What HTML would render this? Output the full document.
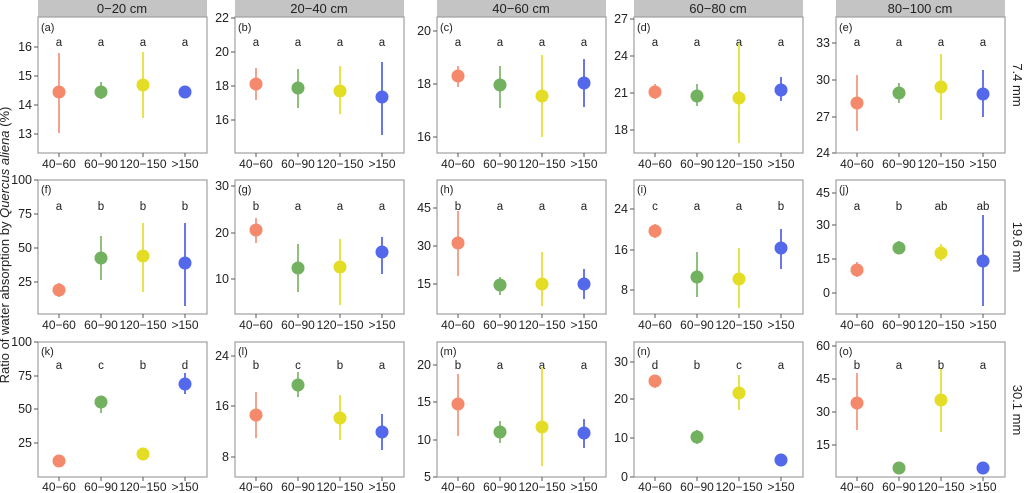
<!DOCTYPE html>
<html><head><meta charset="utf-8"><style>
body{margin:0;background:#fff}
svg{display:block;font-family:"Liberation Sans",Arial,sans-serif}
.fr{fill:none;stroke:#a0a0a0;stroke-width:1.2}
.tk{stroke:#555;stroke-width:1}
.yl{font-size:12.5px;fill:#222;text-anchor:end}
.xl{font-size:12px;fill:#222;text-anchor:middle}
.lt{font-size:11.5px;fill:#222;text-anchor:middle}
.pl{font-size:11px;fill:#222}
.st{fill:#c4c4c4}
.sh{font-size:13px;fill:#222;text-anchor:middle}
.r{stroke:#f4a48e;stroke-width:2}.g{stroke:#8fc07f;stroke-width:2}.y{stroke:#e8e34a;stroke-width:2}.b{stroke:#6a78e6;stroke-width:2}
.R{fill:#f4896b}.G{fill:#72b15f}.Y{fill:#e4dd26}.B{fill:#5468ec}
</style></head><body>
<svg width="1024" height="493" viewBox="0 0 1024 493">
<defs>
<g id="xax1"><line class="tk" x1="21" y1="153" x2="21" y2="157"/><line class="tk" x1="63" y1="153" x2="63" y2="157"/><line class="tk" x1="105" y1="153" x2="105" y2="157"/><line class="tk" x1="147" y1="153" x2="147" y2="157"/><text class="xl" x="21" y="168">40−60</text><text class="xl" x="63" y="168">60−90</text><text class="xl" x="105" y="168">120−150</text><text class="xl" x="147" y="168">&gt;150</text></g>
<g id="xax2"><line class="tk" x1="21" y1="314" x2="21" y2="318"/><line class="tk" x1="63" y1="314" x2="63" y2="318"/><line class="tk" x1="105" y1="314" x2="105" y2="318"/><line class="tk" x1="147" y1="314" x2="147" y2="318"/><text class="xl" x="21" y="329">40−60</text><text class="xl" x="63" y="329">60−90</text><text class="xl" x="105" y="329">120−150</text><text class="xl" x="147" y="329">&gt;150</text></g>
<g id="xax3"><line class="tk" x1="21" y1="477" x2="21" y2="481"/><line class="tk" x1="63" y1="477" x2="63" y2="481"/><line class="tk" x1="105" y1="477" x2="105" y2="481"/><line class="tk" x1="147" y1="477" x2="147" y2="481"/><text class="xl" x="21" y="491">40−60</text><text class="xl" x="63" y="491">60−90</text><text class="xl" x="105" y="491">120−150</text><text class="xl" x="147" y="491">&gt;150</text></g>
</defs>

<text class="pl" transform="translate(9,245) rotate(-90)" text-anchor="middle" style="font-size:13px">Ratio of water absorption by <tspan font-style="italic">Quercus aliena</tspan> (%)</text>
<text class="sh" transform="translate(1013,85) rotate(90)">7.4 mm</text>
<text class="sh" transform="translate(1013,247) rotate(90)">19.6 mm</text>
<text class="sh" transform="translate(1013,410) rotate(90)">30.1 mm</text>

<rect class="st" x="38" y="0" width="169" height="17"/><text class="sh" x="122" y="13">0−20 cm</text>
<rect class="st" x="235" y="0" width="169" height="17"/><text class="sh" x="319" y="13">20−40 cm</text>
<rect class="st" x="437" y="0" width="169" height="17"/><text class="sh" x="521" y="13">40−60 cm</text>
<rect class="st" x="634" y="0" width="169" height="17"/><text class="sh" x="718" y="13">60−80 cm</text>
<rect class="st" x="836" y="0" width="169" height="17"/><text class="sh" x="920" y="13">80−100 cm</text>

<g transform="translate(38,0)"><rect class="fr" x="0" y="17" width="169" height="136"/><use href="#xax1"/>
<line class="tk" x1="-4" y1="47" x2="0" y2="47"/><text class="yl" x="-6" y="51">16</text>
<line class="tk" x1="-4" y1="76" x2="0" y2="76"/><text class="yl" x="-6" y="80">15</text>
<line class="tk" x1="-4" y1="105" x2="0" y2="105"/><text class="yl" x="-6" y="109">14</text>
<line class="tk" x1="-4" y1="134" x2="0" y2="134"/><text class="yl" x="-6" y="138">13</text>
<text class="pl" x="3" y="31">(a)</text>
<text class="lt" x="21" y="46">a</text><text class="lt" x="63" y="46">a</text><text class="lt" x="105" y="46">a</text><text class="lt" x="147" y="46">a</text>
<line class="r" x1="21" y1="53" x2="21" y2="133"/><circle class="R" cx="21" cy="92" r="6.5"/>
<line class="g" x1="63" y1="82" x2="63" y2="99"/><circle class="G" cx="63" cy="92" r="6.5"/>
<line class="y" x1="105" y1="52" x2="105" y2="118"/><circle class="Y" cx="105" cy="85" r="6.5"/>
<circle class="B" cx="147" cy="92" r="6.5"/></g>

<g transform="translate(235,0)"><rect class="fr" x="0" y="17" width="169" height="136"/><use href="#xax1"/>
<line class="tk" x1="-4" y1="18" x2="0" y2="18"/><text class="yl" x="-6" y="22">22</text>
<line class="tk" x1="-4" y1="52" x2="0" y2="52"/><text class="yl" x="-6" y="56">20</text>
<line class="tk" x1="-4" y1="86" x2="0" y2="86"/><text class="yl" x="-6" y="90">18</text>
<line class="tk" x1="-4" y1="120" x2="0" y2="120"/><text class="yl" x="-6" y="124">16</text>
<text class="pl" x="3" y="31">(b)</text>
<text class="lt" x="21" y="46">a</text><text class="lt" x="63" y="46">a</text><text class="lt" x="105" y="46">a</text><text class="lt" x="147" y="46">a</text>
<line class="r" x1="21" y1="68" x2="21" y2="100"/><circle class="R" cx="21" cy="84" r="6.5"/>
<line class="g" x1="63" y1="69" x2="63" y2="108"/><circle class="G" cx="63" cy="88" r="6.5"/>
<line class="y" x1="105" y1="66" x2="105" y2="114"/><circle class="Y" cx="105" cy="91" r="6.5"/>
<line class="b" x1="147" y1="62" x2="147" y2="135"/><circle class="B" cx="147" cy="97" r="6.5"/></g>

<g transform="translate(437,0)"><rect class="fr" x="0" y="17" width="169" height="136"/><use href="#xax1"/>
<line class="tk" x1="-4" y1="31" x2="0" y2="31"/><text class="yl" x="-6" y="35">20</text>
<line class="tk" x1="-4" y1="84" x2="0" y2="84"/><text class="yl" x="-6" y="88">18</text>
<line class="tk" x1="-4" y1="137" x2="0" y2="137"/><text class="yl" x="-6" y="141">16</text>
<text class="pl" x="3" y="31">(c)</text>
<text class="lt" x="21" y="46">a</text><text class="lt" x="63" y="46">a</text><text class="lt" x="105" y="46">a</text><text class="lt" x="147" y="46">a</text>
<line class="r" x1="21" y1="66" x2="21" y2="87"/><circle class="R" cx="21" cy="76" r="6.5"/>
<line class="g" x1="63" y1="66" x2="63" y2="108"/><circle class="G" cx="63" cy="85" r="6.5"/>
<line class="y" x1="105" y1="55" x2="105" y2="137"/><circle class="Y" cx="105" cy="96" r="6.5"/>
<line class="b" x1="147" y1="59" x2="147" y2="107"/><circle class="B" cx="147" cy="83" r="6.5"/></g>

<g transform="translate(634,0)"><rect class="fr" x="0" y="17" width="169" height="136"/><use href="#xax1"/>
<line class="tk" x1="-4" y1="19" x2="0" y2="19"/><text class="yl" x="-6" y="23">27</text>
<line class="tk" x1="-4" y1="56" x2="0" y2="56"/><text class="yl" x="-6" y="60">24</text>
<line class="tk" x1="-4" y1="93" x2="0" y2="93"/><text class="yl" x="-6" y="97">21</text>
<line class="tk" x1="-4" y1="130" x2="0" y2="130"/><text class="yl" x="-6" y="134">18</text>
<text class="pl" x="3" y="31">(d)</text>
<text class="lt" x="21" y="46">a</text><text class="lt" x="63" y="46">a</text><text class="lt" x="105" y="46">a</text><text class="lt" x="147" y="46">a</text>
<line class="r" x1="21" y1="84" x2="21" y2="99"/><circle class="R" cx="21" cy="92" r="6.5"/>
<line class="g" x1="63" y1="84" x2="63" y2="106"/><circle class="G" cx="63" cy="96" r="6.5"/>
<line class="y" x1="105" y1="43" x2="105" y2="143"/><circle class="Y" cx="105" cy="98" r="6.5"/>
<line class="b" x1="147" y1="77" x2="147" y2="101"/><circle class="B" cx="147" cy="90" r="6.5"/></g>

<g transform="translate(836,0)"><rect class="fr" x="0" y="17" width="169" height="136"/><use href="#xax1"/>
<line class="tk" x1="-4" y1="43" x2="0" y2="43"/><text class="yl" x="-6" y="47">33</text>
<line class="tk" x1="-4" y1="80" x2="0" y2="80"/><text class="yl" x="-6" y="84">30</text>
<line class="tk" x1="-4" y1="117" x2="0" y2="117"/><text class="yl" x="-6" y="121">27</text>
<line class="tk" x1="-4" y1="153" x2="0" y2="153"/><text class="yl" x="-6" y="157">24</text>
<text class="pl" x="3" y="31">(e)</text>
<text class="lt" x="21" y="46">a</text><text class="lt" x="63" y="46">a</text><text class="lt" x="105" y="46">a</text><text class="lt" x="147" y="46">a</text>
<line class="r" x1="21" y1="75" x2="21" y2="131"/><circle class="R" cx="21" cy="103" r="6.5"/>
<line class="g" x1="63" y1="83" x2="63" y2="103"/><circle class="G" cx="63" cy="93" r="6.5"/>
<line class="y" x1="105" y1="54" x2="105" y2="120"/><circle class="Y" cx="105" cy="87" r="6.5"/>
<line class="b" x1="147" y1="70" x2="147" y2="117"/><circle class="B" cx="147" cy="94" r="6.5"/></g>

<g transform="translate(38,0)"><rect class="fr" x="0" y="180" width="169" height="134"/><use href="#xax2"/>
<line class="tk" x1="-4" y1="180" x2="0" y2="180"/><text class="yl" x="-6" y="184">100</text>
<line class="tk" x1="-4" y1="214" x2="0" y2="214"/><text class="yl" x="-6" y="218">75</text>
<line class="tk" x1="-4" y1="248" x2="0" y2="248"/><text class="yl" x="-6" y="252">50</text>
<line class="tk" x1="-4" y1="282" x2="0" y2="282"/><text class="yl" x="-6" y="286">25</text>
<text class="pl" x="3" y="193">(f)</text>
<text class="lt" x="21" y="210">a</text><text class="lt" x="63" y="210">b</text><text class="lt" x="105" y="210">b</text><text class="lt" x="147" y="210">b</text>
<line class="r" x1="21" y1="283" x2="21" y2="297"/><circle class="R" cx="21" cy="290" r="6.5"/>
<line class="g" x1="63" y1="236" x2="63" y2="280"/><circle class="G" cx="63" cy="258" r="6.5"/>
<line class="y" x1="105" y1="223" x2="105" y2="292"/><circle class="Y" cx="105" cy="256" r="6.5"/>
<line class="b" x1="147" y1="223" x2="147" y2="306"/><circle class="B" cx="147" cy="263" r="6.5"/></g>

<g transform="translate(235,0)"><rect class="fr" x="0" y="180" width="169" height="134"/><use href="#xax2"/>
<line class="tk" x1="-4" y1="186" x2="0" y2="186"/><text class="yl" x="-6" y="190">30</text>
<line class="tk" x1="-4" y1="233" x2="0" y2="233"/><text class="yl" x="-6" y="237">20</text>
<line class="tk" x1="-4" y1="279" x2="0" y2="279"/><text class="yl" x="-6" y="283">10</text>
<text class="pl" x="3" y="193">(g)</text>
<text class="lt" x="21" y="210">b</text><text class="lt" x="63" y="210">a</text><text class="lt" x="105" y="210">a</text><text class="lt" x="147" y="210">a</text>
<line class="r" x1="21" y1="218" x2="21" y2="243"/><circle class="R" cx="21" cy="230" r="6.5"/>
<line class="g" x1="63" y1="244" x2="63" y2="292"/><circle class="G" cx="63" cy="268" r="6.5"/>
<line class="y" x1="105" y1="239" x2="105" y2="305"/><circle class="Y" cx="105" cy="267" r="6.5"/>
<line class="b" x1="147" y1="237" x2="147" y2="274"/><circle class="B" cx="147" cy="252" r="6.5"/></g>

<g transform="translate(437,0)"><rect class="fr" x="0" y="180" width="169" height="134"/><use href="#xax2"/>
<line class="tk" x1="-4" y1="208" x2="0" y2="208"/><text class="yl" x="-6" y="212">45</text>
<line class="tk" x1="-4" y1="246" x2="0" y2="246"/><text class="yl" x="-6" y="250">30</text>
<line class="tk" x1="-4" y1="284" x2="0" y2="284"/><text class="yl" x="-6" y="288">15</text>
<text class="pl" x="3" y="193">(h)</text>
<text class="lt" x="21" y="210">b</text><text class="lt" x="63" y="210">a</text><text class="lt" x="105" y="210">a</text><text class="lt" x="147" y="210">a</text>
<line class="r" x1="21" y1="211" x2="21" y2="276"/><circle class="R" cx="21" cy="243" r="6.5"/>
<line class="g" x1="63" y1="277" x2="63" y2="295"/><circle class="G" cx="63" cy="285" r="6.5"/>
<line class="y" x1="105" y1="252" x2="105" y2="306"/><circle class="Y" cx="105" cy="284" r="6.5"/>
<line class="b" x1="147" y1="269" x2="147" y2="299"/><circle class="B" cx="147" cy="284" r="6.5"/></g>

<g transform="translate(634,0)"><rect class="fr" x="0" y="180" width="169" height="134"/><use href="#xax2"/>
<line class="tk" x1="-4" y1="209" x2="0" y2="209"/><text class="yl" x="-6" y="213">24</text>
<line class="tk" x1="-4" y1="250" x2="0" y2="250"/><text class="yl" x="-6" y="254">16</text>
<line class="tk" x1="-4" y1="290" x2="0" y2="290"/><text class="yl" x="-6" y="294">8</text>
<text class="pl" x="3" y="193">(i)</text>
<text class="lt" x="21" y="210">c</text><text class="lt" x="63" y="210">a</text><text class="lt" x="105" y="210">a</text><text class="lt" x="147" y="210">b</text>
<line class="r" x1="21" y1="224" x2="21" y2="238"/><circle class="R" cx="21" cy="231" r="6.5"/>
<line class="g" x1="63" y1="252" x2="63" y2="297"/><circle class="G" cx="63" cy="277" r="6.5"/>
<line class="y" x1="105" y1="248" x2="105" y2="308"/><circle class="Y" cx="105" cy="279" r="6.5"/>
<line class="b" x1="147" y1="229" x2="147" y2="269"/><circle class="B" cx="147" cy="248" r="6.5"/></g>

<g transform="translate(836,0)"><rect class="fr" x="0" y="180" width="169" height="134"/><use href="#xax2"/>
<line class="tk" x1="-4" y1="193" x2="0" y2="193"/><text class="yl" x="-6" y="197">45</text>
<line class="tk" x1="-4" y1="225" x2="0" y2="225"/><text class="yl" x="-6" y="229">30</text>
<line class="tk" x1="-4" y1="259" x2="0" y2="259"/><text class="yl" x="-6" y="263">15</text>
<line class="tk" x1="-4" y1="293" x2="0" y2="293"/><text class="yl" x="-6" y="297">0</text>
<text class="pl" x="3" y="193">(j)</text>
<text class="lt" x="21" y="210">a</text><text class="lt" x="63" y="210">b</text><text class="lt" x="105" y="210">ab</text><text class="lt" x="147" y="210">ab</text>
<line class="r" x1="21" y1="262" x2="21" y2="277"/><circle class="R" cx="21" cy="270" r="6.5"/>
<line class="g" x1="63" y1="241" x2="63" y2="254"/><circle class="G" cx="63" cy="248" r="6.5"/>
<line class="y" x1="105" y1="244" x2="105" y2="261"/><circle class="Y" cx="105" cy="253" r="6.5"/>
<line class="b" x1="147" y1="215" x2="147" y2="306"/><circle class="B" cx="147" cy="261" r="6.5"/></g>

<g transform="translate(38,0)"><rect class="fr" x="0" y="342" width="169" height="135"/><use href="#xax3"/>
<line class="tk" x1="-4" y1="342" x2="0" y2="342"/><text class="yl" x="-6" y="346">100</text>
<line class="tk" x1="-4" y1="376" x2="0" y2="376"/><text class="yl" x="-6" y="380">75</text>
<line class="tk" x1="-4" y1="409" x2="0" y2="409"/><text class="yl" x="-6" y="413">50</text>
<line class="tk" x1="-4" y1="443" x2="0" y2="443"/><text class="yl" x="-6" y="447">25</text>
<text class="pl" x="3" y="355">(k)</text>
<text class="lt" x="21" y="369">a</text><text class="lt" x="63" y="369">c</text><text class="lt" x="105" y="369">b</text><text class="lt" x="147" y="369">d</text>
<circle class="R" cx="21" cy="461" r="6.5"/>
<line class="g" x1="63" y1="396" x2="63" y2="413"/><circle class="G" cx="63" cy="402" r="6.5"/>
<circle class="Y" cx="105" cy="454" r="6.5"/>
<line class="b" x1="147" y1="373" x2="147" y2="394"/><circle class="B" cx="147" cy="384" r="6.5"/></g>

<g transform="translate(235,0)"><rect class="fr" x="0" y="342" width="169" height="135"/><use href="#xax3"/>
<line class="tk" x1="-4" y1="356" x2="0" y2="356"/><text class="yl" x="-6" y="360">24</text>
<line class="tk" x1="-4" y1="406" x2="0" y2="406"/><text class="yl" x="-6" y="410">16</text>
<line class="tk" x1="-4" y1="457" x2="0" y2="457"/><text class="yl" x="-6" y="461">8</text>
<text class="pl" x="3" y="355">(l)</text>
<text class="lt" x="21" y="369">b</text><text class="lt" x="63" y="369">c</text><text class="lt" x="105" y="369">b</text><text class="lt" x="147" y="369">a</text>
<line class="r" x1="21" y1="392" x2="21" y2="438"/><circle class="R" cx="21" cy="415" r="6.5"/>
<line class="g" x1="63" y1="372" x2="63" y2="397"/><circle class="G" cx="63" cy="385" r="6.5"/>
<line class="y" x1="105" y1="395" x2="105" y2="440"/><circle class="Y" cx="105" cy="418" r="6.5"/>
<line class="b" x1="147" y1="414" x2="147" y2="450"/><circle class="B" cx="147" cy="432" r="6.5"/></g>

<g transform="translate(437,0)"><rect class="fr" x="0" y="342" width="169" height="135"/><use href="#xax3"/>
<line class="tk" x1="-4" y1="365" x2="0" y2="365"/><text class="yl" x="-6" y="369">20</text>
<line class="tk" x1="-4" y1="402" x2="0" y2="402"/><text class="yl" x="-6" y="406">15</text>
<line class="tk" x1="-4" y1="440" x2="0" y2="440"/><text class="yl" x="-6" y="444">10</text>
<line class="tk" x1="-4" y1="477" x2="0" y2="477"/><text class="yl" x="-6" y="481">5</text>
<text class="pl" x="3" y="355">(m)</text>
<text class="lt" x="21" y="369">b</text><text class="lt" x="63" y="369">a</text><text class="lt" x="105" y="369">a</text><text class="lt" x="147" y="369">a</text>
<line class="r" x1="21" y1="374" x2="21" y2="436"/><circle class="R" cx="21" cy="404" r="6.5"/>
<line class="g" x1="63" y1="421" x2="63" y2="443"/><circle class="G" cx="63" cy="432" r="6.5"/>
<line class="y" x1="105" y1="367" x2="105" y2="466"/><circle class="Y" cx="105" cy="427" r="6.5"/>
<line class="b" x1="147" y1="419" x2="147" y2="448"/><circle class="B" cx="147" cy="433" r="6.5"/></g>

<g transform="translate(634,0)"><rect class="fr" x="0" y="342" width="169" height="135"/><use href="#xax3"/>
<line class="tk" x1="-4" y1="362" x2="0" y2="362"/><text class="yl" x="-6" y="366">30</text>
<line class="tk" x1="-4" y1="399" x2="0" y2="399"/><text class="yl" x="-6" y="403">20</text>
<line class="tk" x1="-4" y1="438" x2="0" y2="438"/><text class="yl" x="-6" y="442">10</text>
<line class="tk" x1="-4" y1="477" x2="0" y2="477"/><text class="yl" x="-6" y="481">0</text>
<text class="pl" x="3" y="355">(n)</text>
<text class="lt" x="21" y="369">d</text><text class="lt" x="63" y="369">b</text><text class="lt" x="105" y="369">c</text><text class="lt" x="147" y="369">a</text>
<line class="r" x1="21" y1="375" x2="21" y2="388"/><circle class="R" cx="21" cy="381" r="6.5"/>
<line class="g" x1="63" y1="430" x2="63" y2="444"/><circle class="G" cx="63" cy="437" r="6.5"/>
<line class="y" x1="105" y1="375" x2="105" y2="410"/><circle class="Y" cx="105" cy="393" r="6.5"/>
<line class="b" x1="147" y1="455" x2="147" y2="465"/><circle class="B" cx="147" cy="460" r="6.5"/></g>

<g transform="translate(836,0)"><rect class="fr" x="0" y="342" width="169" height="135"/><use href="#xax3"/>
<line class="tk" x1="-4" y1="346" x2="0" y2="346"/><text class="yl" x="-6" y="350">60</text>
<line class="tk" x1="-4" y1="379" x2="0" y2="379"/><text class="yl" x="-6" y="383">45</text>
<line class="tk" x1="-4" y1="412" x2="0" y2="412"/><text class="yl" x="-6" y="416">30</text>
<line class="tk" x1="-4" y1="445" x2="0" y2="445"/><text class="yl" x="-6" y="449">15</text>
<text class="pl" x="3" y="355">(o)</text>
<text class="lt" x="21" y="369">b</text><text class="lt" x="63" y="369">a</text><text class="lt" x="105" y="369">b</text><text class="lt" x="147" y="369">a</text>
<line class="r" x1="21" y1="373" x2="21" y2="430"/><circle class="R" cx="21" cy="403" r="6.5"/>
<circle class="G" cx="63" cy="468" r="6.5"/>
<line class="y" x1="105" y1="369" x2="105" y2="432"/><circle class="Y" cx="105" cy="400" r="6.5"/>
<circle class="B" cx="147" cy="468" r="6.5"/></g>
</svg>
</body></html>
